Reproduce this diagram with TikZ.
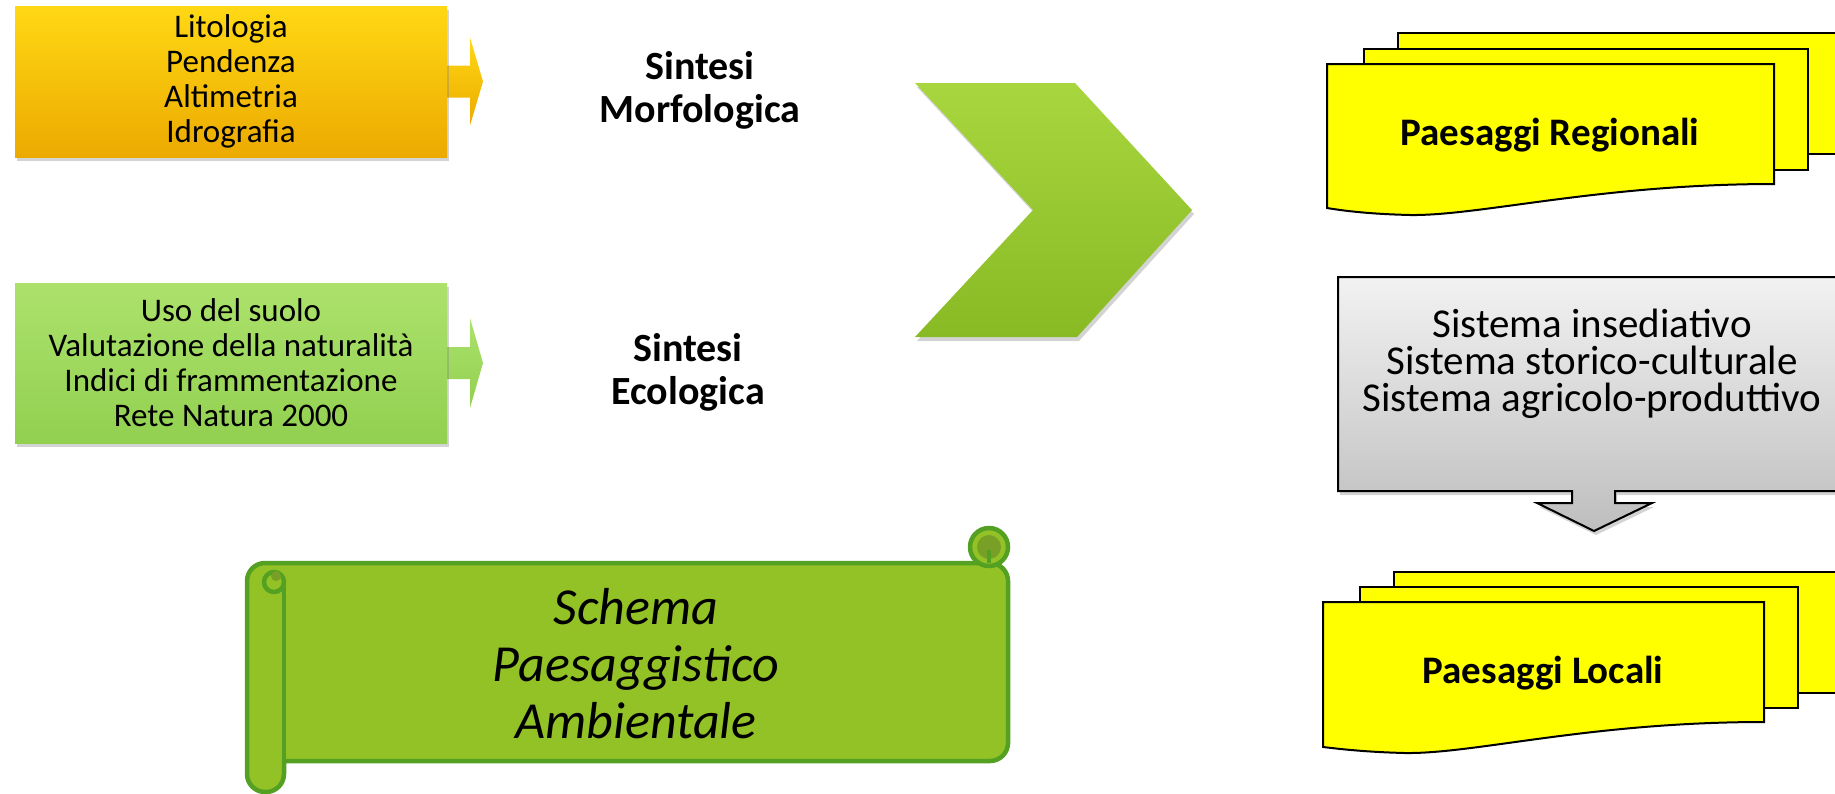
\documentclass[tikz,border=0pt]{standalone}
\usepackage{fontspec}
\setmainfont{Carlito}
\usetikzlibrary{calc,shadows}

\definecolor{goldtop}{RGB}{255,216,20}
\definecolor{goldbot}{RGB}{236,170,0}
\definecolor{leaftop}{RGB}{172,226,108}
\definecolor{leafbot}{RGB}{146,208,80}
\definecolor{chevtop}{RGB}{168,214,62}
\definecolor{chevbot}{RGB}{136,186,36}
\definecolor{scrollfill}{RGB}{146,194,38}
\definecolor{scrollline}{RGB}{84,160,34}
\definecolor{scrolldark}{RGB}{120,160,38}
\definecolor{docyellow}{RGB}{255,255,0}
\definecolor{greytop}{RGB}{242,242,242}
\definecolor{greybot}{RGB}{190,190,190}

\tikzset{
  x=1pt, y=-1pt,
  softshadow/.style={drop shadow={opacity=0.35, shadow xshift=2pt, shadow yshift=-4pt}},
  inbox/.style={align=center, minimum width=432pt, minimum height=151pt, inner sep=0pt,
    font=\fontsize{33}{35}\selectfont, softshadow},
  goldbox/.style={inbox, top color=goldtop, bottom color=goldbot},
  leafbox/.style={inbox, top color=leaftop, bottom color=leafbot, minimum height=160pt},
  goldarrow/.style={top color=goldtop, bottom color=goldbot},
  leafarrow/.style={top color=leaftop, bottom color=leafbot},
  sintesi/.style={align=center, font=\fontsize{40}{43}\selectfont\bfseries},
  chevron/.style={top color=chevtop, bottom color=chevbot, softshadow},
  scroll/.style={fill=scrollfill, draw=scrollline, line width=4.5pt, line join=round},
  docsheet/.style={fill=docyellow, draw=black, line width=2pt},
  doctext/.style={font=\fontsize{39}{44}\selectfont\bfseries},
  greycallout/.style={top color=greytop, bottom color=greybot, draw=black, line width=2pt, softshadow},
  systext/.style={align=center, font=\fontsize{41}{37}\selectfont},
  scrolltext/.style={align=center, font=\fontsize{52}{57}\selectfont\itshape}
}

\begin{document}
\begin{tikzpicture}
\path[use as bounding box] (0,0) rectangle (1835,793);
\clip (0,0) rectangle (1835,793);

% block arrows behind the input boxes
\coordinate (lithoE) at (447,81.5);
\coordinate (ecoE) at (447,363);
\shade[goldarrow] ($(lithoE)+(-12,-16)$) -- ($(lithoE)+(23,-16)$) -- ($(lithoE)+(23,-44)$)
  -- ($(lithoE)+(36,0)$) -- ($(lithoE)+(23,44)$) -- ($(lithoE)+(23,16)$) -- ($(lithoE)+(-12,16)$) -- cycle;
\shade[leafarrow] ($(ecoE)+(-12,-16)$) -- ($(ecoE)+(23,-16)$) -- ($(ecoE)+(23,-45)$)
  -- ($(ecoE)+(36,0)$) -- ($(ecoE)+(23,45)$) -- ($(ecoE)+(23,16)$) -- ($(ecoE)+(-12,16)$) -- cycle;

% input boxes
\node[goldbox] (litho) at (231,81.5) {Litologia\\Pendenza\\Altimetria\\Idrografia};
\node[leafbox] (eco) at (231,363) {Uso del suolo\\Valutazione della naturalità\\Indici di frammentazione\\Rete Natura 2000};

\node[sintesi] (morfo) at (700,90) {Sintesi\\Morfologica};
\node[sintesi] (ecol) at (688,372) {Sintesi\\Ecologica};

% chevron
\path[chevron] (915,83) -- (1075,83) -- (1192,210) -- (1077,337) -- (915,337) -- (1033,210) -- cycle;

% scroll
\path[scroll] (247,700) [rounded corners=18pt] -- (247,563) -- (1008,563) -- (1008,761)
  [sharp corners] -- (284,761) [rounded corners=18pt] -- (284,792) -- (247,792) -- cycle;
\draw[scroll, fill=none] (284,761) -- (284,584);
\filldraw[scroll] (274,582) circle (10);
\fill[scrolldark] (276,576) circle (5);
\filldraw[scroll] (989,547) circle (19);
\fill[scrolldark] (989,547) circle (12);
\draw[scroll, fill=none] (989,550) -- (989,563);
\node[scrolltext] (schema) at (636,664) {Schema\\Paesaggistico\\Ambientale};

% regional landscapes
\filldraw[docsheet] (1398,33) rectangle (1845,154);
\filldraw[docsheet] (1364,49) rectangle (1808,170);
\filldraw[docsheet] (1327,64) -- (1774,64) -- (1774,184)
  .. controls (1600,184) and (1480,216) .. (1410,215)
  .. controls (1370,214) and (1345,211) .. (1327,208) -- cycle;
\node[doctext] (regional) at (1550,135) {Paesaggi Regionali};

% systems box with down arrow
\path[greycallout] (1338,277) -- (1845,277) -- (1845,491) -- (1615,491) -- (1615,503) -- (1652,503)
  -- (1594,531) -- (1537,503) -- (1572,503) -- (1572,491) -- (1338,491) -- cycle;
\node[systext] (sistemi) at (1592,364) {Sistema insediativo\\Sistema storico-culturale\\Sistema agricolo-produttivo};

% local landscapes
\filldraw[docsheet] (1394,572) rectangle (1845,693);
\filldraw[docsheet] (1360,587) rectangle (1798,708);
\filldraw[docsheet] (1323,602) -- (1764,602) -- (1764,722)
  .. controls (1590,722) and (1475,754) .. (1405,753)
  .. controls (1365,752) and (1340,749) .. (1323,747) -- cycle;
\node[doctext] (local) at (1543,673) {Paesaggi Locali};
\end{tikzpicture}
\end{document}
